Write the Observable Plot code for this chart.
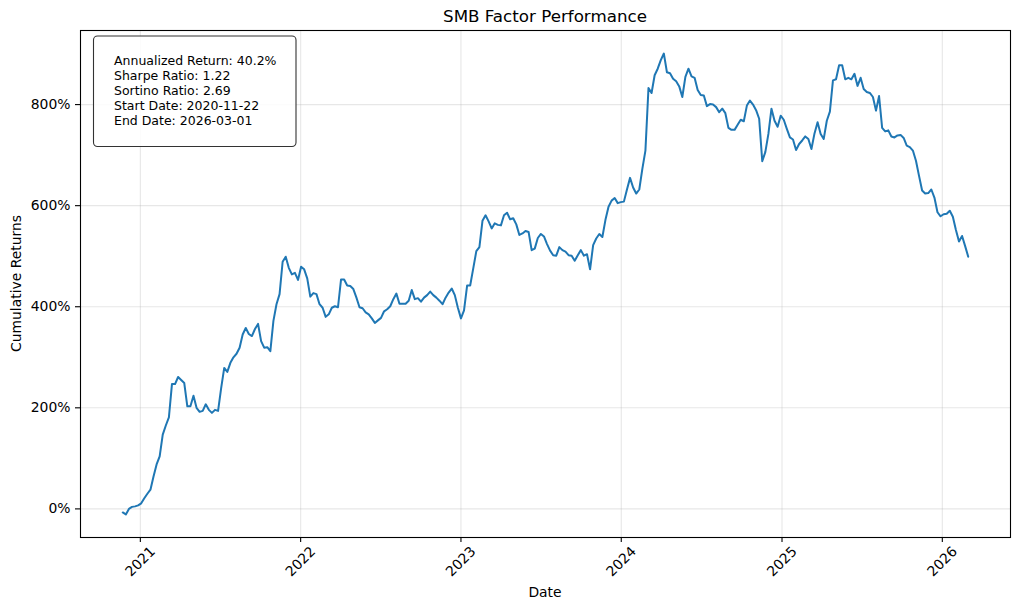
<!DOCTYPE html>
<html>
<head>
<meta charset="utf-8">
<script src="https://cdn.jsdelivr.net/npm/d3@7"></script>
<script src="https://cdn.jsdelivr.net/npm/@observablehq/plot@0.6"></script>
<style>
  html, body { margin: 0; padding: 0; background: white; }
  svg { display: block; }
</style>
</head>
<body>
<script>
// ---- Data ----
const title = "SMB Factor Performance";
const xLabel = "Date";
const yLabel = "Cumulative Returns";
const seriesStart = "2020-11-22"; // first weekly observation
const seriesEnd = "2026-03-01";   // last weekly observation
// weekly cumulative return, in percent
const cumulativeReturnPct = [
  -7, -11, 0, 4, 5, 7, 11, 21, 30, 38,
  64, 88, 104, 147, 165, 181, 247, 247, 261, 255,
  249, 203, 203, 224, 200, 192, 194, 207, 196, 190,
  196, 194, 239, 279, 271, 289, 300, 307, 319, 345,
  358, 346, 342, 356, 366, 332, 319, 320, 312, 372,
  405, 425, 489, 499, 477, 464, 467, 453, 479, 474,
  456, 420, 427, 425, 405, 398, 380, 385, 398, 401,
  399, 454, 454, 442, 441, 435, 418, 399, 397, 389,
  385, 377, 368, 373, 378, 391, 395, 401, 415, 426,
  406, 406, 406, 412, 433, 415, 417, 410, 418, 423,
  430, 423, 418, 412, 405, 418, 428, 436, 423, 398,
  377, 393, 442, 442, 476, 510, 518, 570, 581, 569,
  555, 565, 562, 561, 581, 586, 573, 575, 563, 542,
  545, 550, 548, 512, 515, 536, 544, 539, 524, 511,
  502, 501, 518, 512, 509, 502, 501, 491, 502, 512,
  501, 504, 474, 522, 535, 544, 538, 572, 598, 610,
  615, 605, 607, 608, 632, 655, 636, 624, 632, 673,
  709, 833, 823, 858, 871, 888, 901, 864, 862, 851,
  846, 836, 815, 855, 871, 856, 853, 829, 819, 818,
  797, 801, 800, 795, 785, 792, 783, 754, 750, 750,
  760, 770, 767, 798, 808, 800, 789, 772, 688, 706,
  742, 792, 768, 756, 778, 770, 752, 735, 731, 710,
  722, 729, 737, 732, 712, 743, 765, 742, 732, 768,
  786, 848, 850, 878, 878, 850, 853, 850, 861, 837,
  853, 831, 825, 823, 815, 788, 817, 754, 747, 749,
  737, 735, 739, 740, 734, 719, 716, 709, 689, 659,
  630, 624, 625, 632, 616, 587, 579, 583, 584, 590,
  578, 552, 529, 540, 520, 499
];
const xTickYears = ["2021-01-01", "2022-01-01", "2023-01-01", "2024-01-01", "2025-01-01", "2026-01-01"];
const yTickValues = [0, 200, 400, 600, 800];
const statsLines = [
  "Annualized Return: 40.2%",
  "Sharpe Ratio: 1.22",
  "Sortino Ratio: 2.69",
  "Start Date: 2020-11-22",
  "End Date: 2026-03-01"
];

// ---- Build table ----
const start = new Date(seriesStart);
const data = cumulativeReturnPct.map((v, i) => ({ date: d3.utcDay.offset(start, 7 * i), value: v }));
const yearDates = xTickYears.map(s => new Date(s));

// matplotlib-like 5% margins
const t0 = new Date(seriesStart), t1 = new Date(seriesEnd);
const span = t1 - t0;
const xDomain = [new Date(+t0 - 0.05 * span), new Date(+t1 + 0.05 * span)];
const vmin = d3.min(cumulativeReturnPct), vmax = d3.max(cumulativeReturnPct);
const vspan = vmax - vmin;
const yDomain = [vmin - 0.05 * vspan, vmax + 0.05 * vspan];

const W = 1020, H = 610;
const mL = 80, mR = 10, mT = 30, mB = 73;
const gridStyle = { stroke: "#b0b0b0", strokeOpacity: 0.3, strokeWidth: 1.1 };

const chart = Plot.plot({
  width: W, height: H,
  marginLeft: mL, marginRight: mR, marginTop: mT, marginBottom: mB,
  style: { fontFamily: "DejaVu Sans", fontSize: "13.9px", background: "white", color: "black" },
  x: { type: "utc", domain: xDomain },
  y: { domain: yDomain },
  marks: [
    Plot.gridX({ ticks: yearDates, ...gridStyle }),
    Plot.gridY({ ticks: yTickValues, ...gridStyle }),
    Plot.lineY(data, { x: "date", y: "value", stroke: "#1f77b4", strokeWidth: 2 }),
    Plot.axisY({ ticks: yTickValues, tickFormat: d => d + "%", tickSize: 5, tickPadding: 5, label: null, strokeWidth: 1.1 }),
    Plot.axisX({ ticks: yearDates, tickFormat: () => "", tickSize: 5, label: null, strokeWidth: 1.1 }),
    Plot.text(yearDates, { x: d => d, text: d => String(d.getUTCFullYear()), frameAnchor: "bottom", rotate: -45, textAnchor: "middle", lineAnchor: "middle", dy: 24, fontSize: 13.9 }),
    Plot.frame({ stroke: "black", strokeWidth: 1.1 })
  ]
});
document.body.appendChild(chart);

// ---- Annotations (title, axis labels, stats box) ----
const svg = d3.select(chart);
const cx = mL + (W - mL - mR) / 2;
svg.append("text").attr("x", cx).attr("y", 22).attr("text-anchor", "middle")
  .attr("font-family", "DejaVu Sans").attr("font-size", "16.7px").attr("fill", "black").text(title);
svg.append("text").attr("x", cx).attr("y", 597).attr("text-anchor", "middle")
  .attr("font-family", "DejaVu Sans").attr("font-size", "13.9px").attr("fill", "black").text(xLabel);
svg.append("text").attr("transform", `translate(21,${mT + (H - mT - mB) / 2}) rotate(-90)`).attr("text-anchor", "middle")
  .attr("font-family", "DejaVu Sans").attr("font-size", "13.9px").attr("fill", "black").text(yLabel);

const box = svg.append("g");
box.append("rect").attr("x", 93.5).attr("y", 36).attr("width", 202.5).attr("height", 110.5)
  .attr("rx", 4).attr("ry", 4).attr("fill", "white").attr("fill-opacity", 0.85)
  .attr("stroke", "#333").attr("stroke-width", 1.1);
statsLines.forEach((s, i) => {
  box.append("text").attr("x", 114).attr("y", 65 + i * 15).attr("text-anchor", "start")
    .attr("font-family", "DejaVu Sans").attr("font-size", "12.5px").attr("fill", "black").text(s);
});
</script>
</body>
</html>
